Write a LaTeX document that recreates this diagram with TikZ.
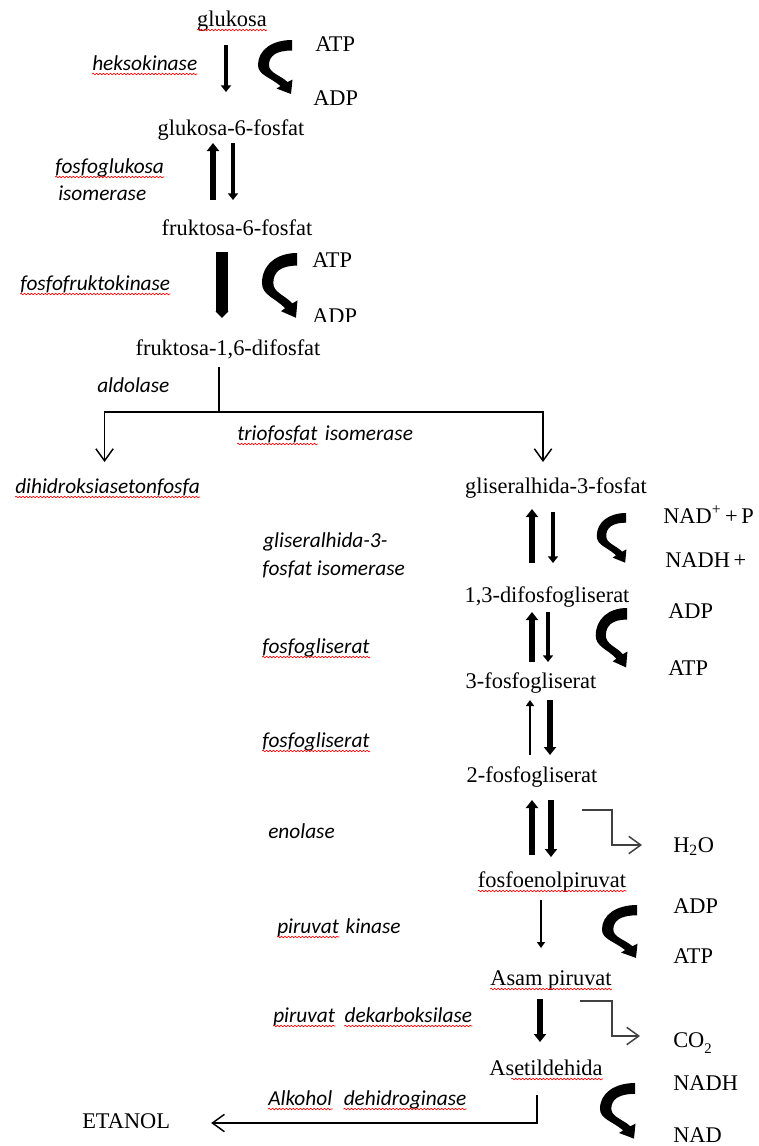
\documentclass[tikz,border=0pt]{standalone}
\usepackage{fontspec}
\setmainfont{Liberation Serif}
\newfontfamily\enzfont{Carlito}
\usetikzlibrary{arrows.meta,calc,decorations.pathmorphing}

\tikzset{
  chem/.style={inner sep=0pt, anchor=base, font=\fontsize{16.8}{20}\selectfont},
  cof/.style={inner sep=0pt, anchor=base west, font=\fontsize{16.8}{20}\selectfont},
  enz/.style={inner sep=0pt, anchor=base west, font=\enzfont\itshape\fontsize{16}{19}\selectfont},
  squig/.style={draw=red, line width=0.5pt, decorate,
    decoration={snake, amplitude=0.55pt, segment length=2.6pt}},
  rxlight/.style={line width=2.9pt, -{Triangle[length=5pt,width=7.5pt]}},
  rxthin/.style={line width=2.1pt, -{Triangle[length=4.5pt,width=6pt]}},
  rxheavy/.style={line width=4.2pt, -{Triangle[length=6pt,width=9pt]}},
  rxbar/.style={line width=9pt, -{Triangle[length=5pt,width=9.5pt]}},
  branch/.style={line width=1.1pt, -{Straight Barb[length=9pt,width=13pt,line width=1.1pt]}},
  bent/.style={draw=black!75, line width=1.1pt, -{Straight Barb[length=9pt,width=13pt,line width=1.1pt]}},
  cyc/.pic={
    \fill (0,0) .. controls (-20,0) and (-34,10) .. (-34,25)
      .. controls (-34,35) and (-22,37) .. (-11.5,46)
      -- (-15.5,48.5) -- (-1,54) -- (0.5,39.5) -- (-4.5,42)
      .. controls (-12,35) and (-23,33) .. (-23,25)
      .. controls (-23,16) and (-16,10.5) .. (0,10.5) -- cycle;
  }
}
\newcommand\wavyunder[1]{\draw[squig] ($(#1.base west)+(0,4)$) -- ($(#1.base east)+(0,4)$);}

\begin{document}
\begin{tikzpicture}[x=0.75pt,y=-0.75pt]
\fill[white] (0,0) rectangle (758,1146);
\useasboundingbox (0,0) rectangle (758,1146);

% ---- metabolites along the pathway
\node[chem] (glc) at (232,26)  {glukosa};
\node[chem] (g6p) at (231,135) {glukosa-6-fosfat};
\node[chem] (f6p) at (237,235) {fruktosa-6-fosfat};
\node[chem] (fbp) at (228,355) {fruktosa-1,6-difosfat};
\node[enz]  (dhap) at (15,493) {dihidroksiasetonfosfa};
\node[chem] (gap) at (556,493) {gliseralhida-3-fosfat};
\node[chem] (bpg) at (547,602) {1,3-difosfogliserat};
\node[chem] (pg3) at (531,688) {3-fosfogliserat};
\node[chem] (pg2) at (532,782) {2-fosfogliserat};
\node[chem] (pep) at (552,887) {fosfoenolpiruvat};
\node[chem] (pyr) at (551,985) {Asam piruvat};
\node[chem] (ace) at (546,1075) {Asetildehida};
\node[cof]  (etoh) at (82,1128) {ETANOL};

% ---- cofactors and side products
\node[cof] (atp1) at (315,51)  {ATP};
\node[cof] (adp1) at (313,105) {ADP};
\node[cof] (atp2) at (312,267) {ATP};
\begin{scope}
  \clip (300,290) rectangle (380,321);
  \node[cof] (adp2) at (312,323) {ADP};
\end{scope}
\node[cof] (nadp)  at (663,523) {NAD\textsuperscript{+}\,+\,P};
\node[cof] (nadh1) at (665,567) {NADH\,+};
\node[cof] (adp3)  at (668,618) {ADP};
\node[cof] (atp3)  at (668,675) {ATP};
\node[cof] (h2o)   at (673,852) {H\textsubscript{2}O};
\node[cof] (adp4)  at (673,913) {ADP};
\node[cof] (atp4)  at (673,963) {ATP};
\node[cof] (co2)   at (673,1047) {CO\raisebox{-5pt}{\fontsize{11}{12}\selectfont 2}};
\node[cof] (nadh2) at (673,1090) {NADH};
\node[cof] (nad)   at (673,1142) {NAD};

% ---- enzymes
\node[enz] (heks) at (92,70)   {heksokinase};
\node[enz] (fg1)  at (55,173)  {fosfoglukosa};
\node[enz] (fg2)  at (58,200)  {isomerase};
\node[enz] (pfk)  at (20,290)  {fosfofruktokinase};
\node[enz] (ald)  at (97,392)  {aldolase};
\node[enz] (tpi1) at (237,440) {triofosfat};
\node[enz] (tpi2) at ($(tpi1.base east)+(7,0)$) {isomerase};
\node[enz] (gi1)  at (263,547) {gliseralhida-3-};
\node[enz] (gi2)  at (262,575) {fosfat isomerase};
\node[enz] (fgl1) at (262,653) {fosfogliserat};
\node[enz] (fgl2) at (262,747) {fosfogliserat};
\node[enz] (eno)  at (268,838) {enolase};
\node[enz] (pk1)  at (277,933) {piruvat};
\node[enz] (pk2)  at ($(pk1.base east)+(6,0)$) {kinase};
\node[enz] (pdc1) at (273,1022) {piruvat};
\node[enz] (pdc2) at ($(pdc1.base east)+(9,0)$) {dekarboksilase};
\node[enz] (adh1) at (268,1105) {Alkohol};
\node[enz] (adh2) at ($(adh1.base east)+(11,0)$) {dehidroginase};

% ---- spelling marks under words
\foreach \w in {glc,heks,fg1,pfk,tpi1,dhap,fgl1,fgl2,pep,pk1,pyr,pdc1,pdc2,adh1,adh2}{\wavyunder{\w}}
\draw[squig] ($(ace.base west)+(22,4)$) -- ($(ace.base east)+(0,4)$);

% ---- reaction arrows
\draw[rxlight] ($(glc.base)+(-6,19)$) -- ($(g6p.base)+(-5,-43)$);
\draw[rxheavy] ($(f6p.base)+(-24,-35)$) -- ($(g6p.base)+(-18,8)$);
\draw[rxlight] ($(g6p.base)+(2,8)$) -- ($(f6p.base)+(-4,-35)$);
\draw[rxbar]   ($(f6p.base)+(-15,17)$) -- ($(fbp.base)+(-6,-37)$);

\draw[line width=1.1pt] ($(fbp.base)+(-9,12)$) -- ++(0,45) coordinate (fork);
\draw[branch] (fork) -| ($(dhap.base)+(-3,-31)$);
\draw[branch] (fork) -| ($(gap.base)+(-13,-31)$);

\draw[rxheavy] ($(bpg.base)+(-15,-39)$) -- ($(gap.base)+(-24,16)$);
\draw[rxlight] ($(gap.base)+(-3,19)$) -- ($(bpg.base)+(6,-39)$);
\draw[rxheavy] ($(pg3.base)+(1,-26)$) -- ($(bpg.base)+(-15,10)$);
\draw[rxlight] ($(bpg.base)+(1,10)$) -- ($(pg3.base)+(17,-26)$);
\draw[rxthin]  ($(pg2.base)+(-2,-27)$) -- ($(pg3.base)+(-1,12)$);
\draw[rxheavy] ($(pg3.base)+(19,12)$) -- ($(pg2.base)+(18,-27)$);
\draw[rxheavy] ($(pep.base)+(-20,-32)$) -- ($(pg2.base)+(0,18)$);
\draw[rxheavy] ($(pg2.base)+(19,18)$) -- ($(pep.base)+(-1,-30)$);
\draw[rxthin]  ($(pep.base)+(-11,13)$) -- ($(pyr.base)+(-10,-37)$);
\draw[rxheavy] ($(pyr.base)+(-11,14)$) -- ($(ace.base)+(-6,-33)$);

% ---- side-product branches
\draw[bent] ($(pg2.base)+(50,28)$) -- ++(30,0) |- ($(h2o.base west)+(-31,-7)$);
\draw[bent] ($(pyr.base)+(29,16)$) -- ++(32,0) |- ($(co2.base west)+(-33,-11)$);
\draw[branch] ($(ace.base)+(-9,20)$) |- ($(etoh.base)+(85,-5)$);

% ---- cofactor loops
\pic at (292,40) {cyc};
\pic[xscale=1.03,yscale=1.2] at (297,253) {cyc};
\pic[xscale=0.86,yscale=0.92] at (626,513) {cyc};
\pic[xscale=0.92,yscale=1.1] at (627,608) {cyc};
\pic[xscale=1.03,yscale=0.98] at (637,905) {cyc};
\pic[xscale=1.03,yscale=1.03] at (635,1083) {cyc};
\end{tikzpicture}
\end{document}
